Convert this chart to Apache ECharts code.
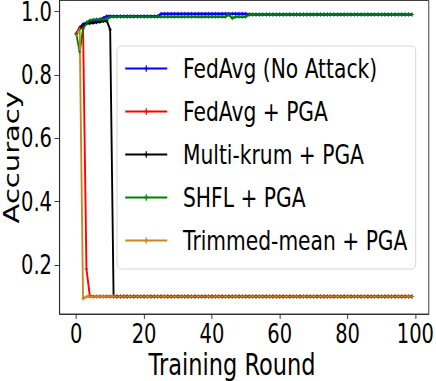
<!DOCTYPE html>
<html>
<head>
<meta charset="utf-8">
<script src="https://cdn.jsdelivr.net/npm/echarts@6/dist/echarts.min.js"></script>
<style>
html,body{margin:0;padding:0;overflow:hidden;background:#fff;}
#wrap{width:436px;height:381px;overflow:hidden;}
#chart{width:581.33px;height:381px;transform:scaleX(0.75);transform-origin:0 0;}
</style>
</head>
<body>
<div id="wrap"><div id="chart"></div></div>
<script>
const seriesNames = ['FedAvg (No Attack)', 'FedAvg + PGA', 'Multi-krum + PGA', 'SHFL + PGA', 'Trimmed-mean + PGA'];
const xTicks = [0, 20, 40, 60, 80, 100];
const yTicks = [0.2, 0.4, 0.6, 0.8, 1.0];

const fedAvgNoAttack = [
  0.93,0.95,0.96,0.965,0.97,0.97,0.972,0.975,0.98,0.985,
  0.985,0.985,0.985,0.985,0.985,0.985,0.985,0.985,0.985,0.985,
  0.985,0.985,0.985,0.985,0.985,0.993,0.993,0.993,0.993,0.993,
  0.993,0.993,0.993,0.993,0.993,0.993,0.993,0.993,0.993,0.993,
  0.993,0.993,0.993,0.993,0.993,0.993,0.993,0.993,0.993,0.993,
  0.993,0.991,0.991,0.991,0.991,0.991,0.991,0.991,0.991,0.991,
  0.991,0.991,0.991,0.991,0.991,0.991,0.991,0.991,0.991,0.991,
  0.991,0.991,0.991,0.991,0.991,0.991,0.991,0.991,0.991,0.991,
  0.991,0.991,0.991,0.991,0.991,0.991,0.991,0.991,0.991,0.991,
  0.991,0.991,0.991,0.991,0.991,0.991,0.991,0.991,0.991,0.991
];
const fedAvgPGA = [
  0.93,0.945,0.952,0.187,0.102,0.1,0.1,0.1,0.1,0.1,
  0.1,0.1,0.1,0.1,0.1,0.1,0.1,0.1,0.1,0.1,
  0.1,0.1,0.1,0.1,0.1,0.1,0.1,0.1,0.1,0.1,
  0.1,0.1,0.1,0.1,0.1,0.1,0.1,0.1,0.1,0.1,
  0.1,0.1,0.1,0.1,0.1,0.1,0.1,0.1,0.1,0.1,
  0.1,0.1,0.1,0.1,0.1,0.1,0.1,0.1,0.1,0.1,
  0.1,0.1,0.1,0.1,0.1,0.1,0.1,0.1,0.1,0.1,
  0.1,0.1,0.1,0.1,0.1,0.1,0.1,0.1,0.1,0.1,
  0.1,0.1,0.1,0.1,0.1,0.1,0.1,0.1,0.1,0.1,
  0.1,0.1,0.1,0.1,0.1,0.1,0.1,0.1,0.1,0.1
];
const multiKrumPGA = [
  0.93,0.945,0.958,0.962,0.963,0.965,0.966,0.968,0.97,0.971,
  0.943,0.1,0.1,0.1,0.1,0.1,0.1,0.1,0.1,0.1,
  0.1,0.1,0.1,0.1,0.1,0.1,0.1,0.1,0.1,0.1,
  0.1,0.1,0.1,0.1,0.1,0.1,0.1,0.1,0.1,0.1,
  0.1,0.1,0.1,0.1,0.1,0.1,0.1,0.1,0.1,0.1,
  0.1,0.1,0.1,0.1,0.1,0.1,0.1,0.1,0.1,0.1,
  0.1,0.1,0.1,0.1,0.1,0.1,0.1,0.1,0.1,0.1,
  0.1,0.1,0.1,0.1,0.1,0.1,0.1,0.1,0.1,0.1,
  0.1,0.1,0.1,0.1,0.1,0.1,0.1,0.1,0.1,0.1,
  0.1,0.1,0.1,0.1,0.1,0.1,0.1,0.1,0.1,0.1
];
const shflPGA = [
  0.93,0.873,0.945,0.965,0.972,0.974,0.975,0.975,0.975,0.975,
  0.984,0.984,0.984,0.984,0.984,0.984,0.984,0.984,0.984,0.984,
  0.984,0.984,0.984,0.984,0.984,0.984,0.984,0.984,0.984,0.984,
  0.984,0.984,0.984,0.984,0.984,0.984,0.984,0.984,0.984,0.984,
  0.984,0.984,0.984,0.984,0.984,0.99,0.979,0.984,0.984,0.984,
  0.984,0.991,0.991,0.991,0.991,0.991,0.991,0.991,0.991,0.991,
  0.991,0.991,0.991,0.991,0.991,0.991,0.991,0.991,0.991,0.991,
  0.991,0.991,0.991,0.991,0.991,0.991,0.991,0.991,0.991,0.991,
  0.991,0.991,0.991,0.991,0.991,0.991,0.991,0.991,0.991,0.991,
  0.991,0.991,0.991,0.991,0.991,0.991,0.991,0.991,0.991,0.991
];
const trimmedMeanPGA = [
  0.925,0.945,0.093,0.1,0.1,0.1,0.1,0.1,0.1,0.1,
  0.1,0.1,0.1,0.1,0.1,0.1,0.1,0.1,0.1,0.1,
  0.1,0.1,0.1,0.1,0.1,0.1,0.1,0.1,0.1,0.1,
  0.1,0.1,0.1,0.1,0.1,0.1,0.1,0.1,0.1,0.1,
  0.1,0.1,0.1,0.1,0.1,0.1,0.1,0.1,0.1,0.1,
  0.1,0.1,0.1,0.1,0.1,0.1,0.1,0.1,0.1,0.1,
  0.1,0.1,0.1,0.1,0.1,0.1,0.1,0.1,0.1,0.1,
  0.1,0.1,0.1,0.1,0.1,0.1,0.1,0.1,0.1,0.1,
  0.1,0.1,0.1,0.1,0.1,0.1,0.1,0.1,0.1,0.1,
  0.1,0.1,0.1,0.1,0.1,0.1,0.1,0.1,0.1,0.1
];

const allValues = [fedAvgNoAttack, fedAvgPGA, multiKrumPGA, shflPGA, trimmedMeanPGA];
const colors = ['#0000ff', '#ff0000', '#000000', '#008000', '#cc8520'];
const plusSymbol = 'path://M3,0H5V3H8V5H5V8H3V5H0V3H3Z';
const FONT = 'DejaVu Sans';

const chart = echarts.init(document.getElementById('chart'), null, {renderer: 'svg'});
chart.setOption({
  animation: false,
  backgroundColor: '#ffffff',
  textStyle: {fontFamily: FONT},
  grid: {left: 79.3, right: 9.3, top: 0.5, bottom: 67, containLabel: false, outerBoundsMode: 'none',
    show: true, borderColor: '#222', borderWidth: 1, backgroundColor: 'transparent'},
  legend: {
    orient: 'vertical',
    left: 156, top: 46,
    padding: [9, 11, 15, 10],
    itemWidth: 56, itemHeight: 8,
    itemGap: 16,
    borderColor: '#d0d0d0', borderWidth: 1, borderRadius: 5,
    backgroundColor: 'rgba(255,255,255,0.8)',
    textStyle: {fontFamily: FONT, fontSize: 27, color: '#000', padding: [0, 0, 0, 16]},
    data: seriesNames
  },
  xAxis: {
    type: 'value', min: -4.95, max: 103.95,
    name: 'Training Round', nameLocation: 'middle', nameGap: 35, nameMoveOverlap: false,
    nameTextStyle: {fontFamily: FONT, fontSize: 30, color: '#000', lineHeight: 30, padding: [0, 32, 0, 0]},
    axisLine: {show: true, onZero: false, lineStyle: {color: '#222', width: 1}},
    axisTick: {show: true, length: 5, lineStyle: {color: '#222'}, customValues: xTicks},
    axisLabel: {fontFamily: FONT, fontSize: 26, color: '#000', margin: 7, customValues: xTicks},
    splitLine: {show: false}
  },
  yAxis: {
    type: 'value', min: 0.045, max: 1.035,
    name: 'Accuracy', nameLocation: 'middle', nameGap: 51, nameMoveOverlap: false,
    nameTextStyle: {fontFamily: FONT, fontSize: 29, color: '#000', lineHeight: 26},
    axisLine: {show: true, onZero: false, lineStyle: {color: '#222', width: 1}},
    axisTick: {show: true, length: 6.7, lineStyle: {color: '#222'}, customValues: yTicks},
    axisLabel: {fontFamily: FONT, fontSize: 26, lineHeight: 18, color: '#000', margin: 10, customValues: yTicks,
      formatter: v => v.toFixed(1)},
    splitLine: {show: false}
  },
  series: seriesNames.map((name, k) => ({
    name: name,
    type: 'line',
    data: allValues[k].map((v, i) => [i, v]),
    color: colors[k],
    lineStyle: {width: 2.5, color: colors[k]},
    itemStyle: {color: colors[k]},
    symbol: plusSymbol,
    symbolSize: 4,
    showSymbol: true,
    clip: true
  }))
});
</script>
</body>
</html>
